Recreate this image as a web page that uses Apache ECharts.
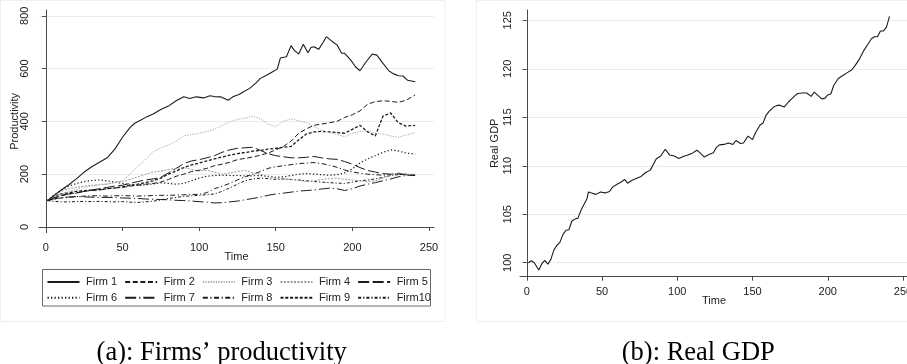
<!DOCTYPE html>
<html>
<head>
<meta charset="utf-8">
<script src="https://cdn.jsdelivr.net/npm/echarts@6/dist/echarts.min.js"></script>
<style>
  html, body { margin: 0; padding: 0; background: #ffffff; }
  #chart { width: 907px; height: 364px; }
</style>
</head>
<body>
<div id="chart"></div>
<script>
// ---- Panel (a): productivity of ten firms over time ----
const firmTime = [1, 5, 10, 15, 20, 25, 30, 35, 40, 45, 50, 55, 60, 65, 70, 75, 80, 85, 90, 95,
  100, 105, 110, 115, 120, 125, 130, 135, 140, 145, 150, 155, 160, 165, 170, 175, 180, 185, 190, 195,
  200, 205, 210, 215, 220, 225, 230, 235, 241];

// Firm 1 is sampled more finely because of its jagged path
const firm1Time = [1, 5, 10, 15, 20, 25, 30, 35, 40, 45, 50, 55, 58, 62, 66, 70, 75, 80, 85, 90,
  94, 98, 103, 107, 110, 114, 119, 122, 126, 129, 133, 137, 140, 144, 148, 151, 153, 157, 160, 162,
  165, 168, 171, 173, 175, 178, 181, 183, 187, 190, 193, 195, 199, 202, 205, 209, 213, 216, 220, 224,
  227, 230, 233, 236, 241];
const firm1 = [100, 118, 140, 160, 183, 208, 228, 245, 262, 295, 340, 377, 393, 405, 418, 428, 445, 458, 478, 493,
  487, 493, 489, 497, 494, 493, 480, 493, 502, 512, 525, 545, 563, 575, 588, 598, 640, 645, 687, 670,
  655, 692, 660, 680, 683, 673, 700, 721, 702, 690, 658, 658, 632, 607, 592, 626, 655, 651, 620, 591,
  580, 573, 572, 556, 550];

const firm2 = [100, 108, 118, 125, 130, 135, 138, 140, 145, 148, 150, 155, 158, 162, 165, 170, 180, 192, 200, 210,
  215, 222, 232, 238, 245, 255, 260, 265, 272, 280, 292, 305, 325, 355, 372, 385, 390, 395, 400, 415,
  425, 440, 465, 475, 478, 476, 472, 480, 500];
const firm3 = [100, 115, 125, 135, 142, 150, 155, 160, 163, 170, 175, 200, 230, 255, 285, 300, 310, 325, 345, 350,
  355, 362, 370, 385, 398, 408, 412, 420, 410, 390, 380, 400, 410, 402, 395, 380, 365, 358, 350, 342,
  355, 362, 365, 355, 352, 345, 340, 348, 358];
const firm4 = [100, 118, 135, 145, 150, 155, 158, 160, 162, 168, 172, 180, 190, 200, 208, 212, 218, 222, 225, 218,
  212, 215, 208, 200, 205, 210, 215, 205, 200, 190, 185, 182, 180, 176, 172, 175, 180, 183, 185, 180,
  178, 175, 172, 175, 185, 198, 205, 200, 200];
const firm5 = [100, 110, 120, 125, 128, 135, 140, 145, 150, 155, 158, 165, 172, 178, 182, 188, 205, 222, 240, 250,
  255, 262, 270, 283, 292, 298, 300, 302, 290, 278, 270, 266, 262, 262, 264, 267, 262, 258, 256, 248,
  238, 225, 214, 208, 202, 200, 203, 198, 195];
const firm6 = [100, 120, 140, 155, 165, 172, 176, 178, 175, 170, 165, 160, 158, 160, 163, 167, 165, 162, 165, 175,
  185, 192, 195, 196, 195, 195, 193, 194, 195, 192, 188, 190, 195, 200, 202, 200, 198, 196, 198, 205,
  220, 243, 258, 270, 283, 292, 288, 280, 276];
const firm7 = [100, 106, 110, 114, 115, 114, 113, 112, 112, 111, 110, 109, 108, 106, 105, 104, 103, 101, 100, 98,
  96, 94, 91, 92, 95, 98, 103, 108, 113, 120, 125, 128, 132, 136, 138, 140, 144, 147, 145, 138,
  145, 155, 162, 168, 175, 182, 190, 195, 197];
const firm8 = [100, 105, 110, 112, 115, 117, 118, 118, 117, 118, 119, 118, 117, 118, 119, 120, 120, 121, 122, 123,
  124, 130, 145, 155, 165, 178, 190, 200, 210, 222, 228, 232, 236, 240, 242, 244, 240, 234, 226, 216,
  208, 204, 200, 198, 196, 198, 200, 198, 195];
const firm9 = [100, 115, 125, 130, 135, 138, 140, 142, 145, 148, 152, 158, 162, 168, 175, 185, 200, 212, 225, 235,
  242, 250, 258, 265, 272, 278, 282, 287, 290, 295, 298, 302, 305, 330, 352, 360, 362, 360, 358, 355,
  370, 385, 360, 345, 420, 432, 395, 382, 385];
const firm10 = [100, 97, 95, 95, 96, 97, 96, 97, 96, 95, 96, 94, 93, 95, 98, 102, 108, 112, 116, 118,
  120, 122, 125, 135, 148, 162, 175, 182, 185, 183, 180, 182, 180, 178, 175, 172, 170, 168, 166, 165,
  170, 175, 178, 182, 188, 195, 198, 200, 196];

const firmNames = ['Firm 1', 'Firm 2', 'Firm 3', 'Firm 4', 'Firm 5',
                   'Firm 6', 'Firm 7', 'Firm 8', 'Firm 9', 'Firm10'];

// ---- Panel (b): real GDP ----
const gdpTime = [1, 3, 5, 8, 10, 12, 14, 16, 18, 20, 22, 24, 26, 28, 30, 32, 34, 36, 38, 40,
  41, 43, 46, 49, 52, 55, 57, 60, 63, 65, 67, 70, 73, 76, 79, 82, 84, 86, 89, 92,
  95, 98, 101, 104, 107, 110, 113, 115, 118, 121, 124, 126, 128, 131, 134, 137, 139, 142, 144, 147,
  150, 152, 155, 157, 159, 161, 164, 166, 168, 171, 174, 176, 178, 180, 183, 186, 189, 191, 193, 196,
  198, 200, 202, 204, 207, 210, 213, 216, 218, 221, 224, 227, 229, 231, 233, 235, 237, 239, 241];
const gdp = [100.0, 100.2, 100.0, 99.25, 99.9, 100.25, 99.85, 100.35, 101.3, 101.8, 102.1, 102.9, 103.35, 103.4, 104.3, 104.5, 104.6, 105.4, 106.0, 106.6,
  107.3, 107.2, 107.05, 107.3, 107.2, 107.35, 107.8, 108.1, 108.35, 108.6, 108.2, 108.5, 108.7, 108.9, 109.3, 109.55, 110.1, 110.7, 111.0, 111.7,
  111.1, 111.0, 110.75, 110.95, 111.1, 111.3, 111.6, 111.35, 110.9, 111.15, 111.35, 111.9, 112.15, 112.2, 112.35, 112.2, 112.6, 112.3, 112.35, 113.05,
  112.7, 113.4, 114.2, 114.4, 115.2, 115.6, 116.05, 116.2, 116.25, 116.05, 116.6, 116.9, 117.2, 117.45, 117.5, 117.5, 117.15, 117.6, 117.3, 116.9,
  116.95, 117.3, 117.4, 118.3, 119.0, 119.3, 119.6, 119.9, 120.3, 121.0, 121.9, 122.6, 123.1, 123.3, 123.3, 123.9, 123.9, 124.3, 125.4];

// Tick values shown on each axis
const timeTicks = [0, 50, 100, 150, 200, 250];
const productivityTicks = [0, 200, 400, 600, 800];
const gdpTicks = [100, 105, 110, 115, 120, 125];

const pairs = (xs, ys) => xs.map((x, i) => [x, ys[i]]);

const INK = '#1c1c1c';
const AXIS = '#4a4a4a';
const GRIDLINE = '#e6eef1';
const SANS = '"Liberation Sans", Arial, sans-serif';
const SERIF = '"Liberation Serif", "Times New Roman", serif';

// line pattern of each firm: colour, dash pattern, width
const firmStyles = [
  { color: INK, type: 'solid', width: 1.1 },
  { color: INK, type: [5, 2.6], width: 1 },
  { color: '#a6a6a6', type: [1.2, 1.4], width: 1 },
  { color: '#9a9a9a', type: [2, 1.4], width: 1 },
  { color: INK, type: [11, 3.5], width: 1 },
  { color: INK, type: [1.3, 2.2], width: 1.2 },
  { color: INK, type: [11, 3, 1.2, 3], width: 1 },
  { color: INK, type: [5, 2.5, 1.2, 2.5], width: 1 },
  { color: INK, type: [3, 1.8], width: 1.3 },
  { color: INK, type: [3, 2, 1.2, 2], width: 1 }
];
const firmValues = [firm1, firm2, firm3, firm4, firm5, firm6, firm7, firm8, firm9, firm10];

function timeAxis(gridIndex) {
  return {
    type: 'value', gridIndex: gridIndex, min: -4.5, max: 253.3,
    name: 'Time', nameLocation: 'middle', nameGap: 19, nameMoveOverlap: false,
    nameTextStyle: { fontFamily: SANS, fontSize: 11, color: '#222' },
    axisLine: { show: true, lineStyle: { color: AXIS, width: 1 } },
    axisTick: { show: true, length: 4, lineStyle: { color: AXIS }, customValues: timeTicks },
    axisLabel: { fontFamily: SANS, fontSize: 11, color: '#222', margin: 10, customValues: timeTicks,
                 hideOverlap: false, showMaxLabel: true },
    splitLine: { show: false }
  };
}

function valueAxis(gridIndex, name, min, max, ticks, labelMargin, nameGap) {
  return {
    type: 'value', gridIndex: gridIndex, min: min, max: max,
    name: name, nameLocation: 'middle', nameGap: nameGap, nameRotate: 90, nameMoveOverlap: false,
    nameTextStyle: { fontFamily: SANS, fontSize: 11, color: '#222' },
    axisLine: { show: true, lineStyle: { color: AXIS, width: 1 } },
    axisTick: { show: true, length: 4, lineStyle: { color: AXIS }, customValues: ticks },
    axisLabel: { fontFamily: SANS, fontSize: 11, color: '#222', rotate: 90, margin: labelMargin, customValues: ticks },
    splitLine: { show: true, lineStyle: { color: GRIDLINE, width: 1 } }
  };
}

const series = firmNames.map((name, i) => ({
  name: name,
  type: 'line',
  xAxisIndex: 0, yAxisIndex: 0,
  data: pairs(i === 0 ? firm1Time : firmTime, firmValues[i]),
  symbol: 'none', showSymbol: false,
  lineStyle: firmStyles[i],
  itemStyle: { color: firmStyles[i].color },
  emphasis: { disabled: true },
  animation: false,
  z: 10 - i
}));

series.push({
  name: 'Real GDP',
  type: 'line',
  xAxisIndex: 1, yAxisIndex: 1,
  data: pairs(gdpTime, gdp),
  symbol: 'none', showSymbol: false,
  lineStyle: { color: INK, width: 1.1 },
  emphasis: { disabled: true },
  animation: false
});

// one legend row per five firms, framed by a shared box
function legendRow(names, top) {
  return {
    data: names,
    left: 46.5, top: top,
    orient: 'horizontal',
    itemWidth: 32, itemHeight: 9, itemGap: 7,
    padding: 0,
    selectedMode: false,
    itemStyle: { opacity: 0 },
    textStyle: { fontFamily: SANS, fontSize: 11, color: '#222', width: 31, lineHeight: 9, padding: [0, 0, 0, 1.5] }
  };
}

const chart = echarts.init(document.getElementById('chart'), null, { renderer: 'canvas' });
chart.setOption({
  animation: false,
  backgroundColor: '#ffffff',
  grid: [
    { left: 39, top: 10, width: 395, height: 222.7, outerBoundsMode: 'none' },
    { left: 520, top: 10, width: 388, height: 266.7, outerBoundsMode: 'none' }
  ],
  xAxis: [timeAxis(0), timeAxis(1)],
  yAxis: [
    valueAxis(0, 'Productivity', -21.7, 822, productivityTicks, 8.5, 19),
    valueAxis(1, 'Real GDP', 98.56, 126.06, gdpTicks, 6.5, 19.5)
  ],
  legend: [
    legendRow(firmNames.slice(0, 5), 276.5),
    legendRow(firmNames.slice(5), 292.3)
  ],
  graphic: [
    { type: 'rect', silent: true, z: -10,
      shape: { x: 0.5, y: 0.5, width: 444.5, height: 321 },
      style: { fill: 'none', stroke: '#efefef', lineWidth: 1 } },
    { type: 'rect', silent: true, z: -10,
      shape: { x: 476.5, y: 0.5, width: 432, height: 321 },
      style: { fill: 'none', stroke: '#efefef', lineWidth: 1 } },
    { type: 'rect', silent: true, z: 5,
      shape: { x: 42.5, y: 269.5, width: 388, height: 36.5 },
      style: { fill: 'none', stroke: '#6a6a6a', lineWidth: 1 } },
    { type: 'text', silent: true, x: 221.7, y: 353,
      style: { text: '(a): Firms\u2019 productivity', font: '26.5px ' + SERIF, fill: '#000',
               textAlign: 'center', textVerticalAlign: 'middle' } },
    { type: 'text', silent: true, x: 698.3, y: 353,
      style: { text: '(b): Real GDP', font: '26.5px ' + SERIF, fill: '#000',
               textAlign: 'center', textVerticalAlign: 'middle' } }
  ],
  series: series
});
</script>
</body>
</html>
